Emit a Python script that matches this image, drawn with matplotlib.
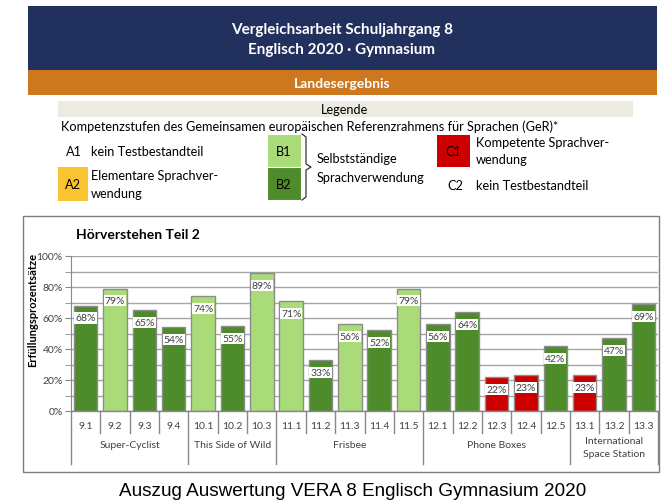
import matplotlib.pyplot as plt
from matplotlib.patches import Rectangle

# data
cats = ['9.1', '9.2', '9.3', '9.4', '10.1', '10.2', '10.3',
        '11.1', '11.2', '11.3', '11.4', '11.5',
        '12.1', '12.2', '12.3', '12.4', '12.5',
        '13.1', '13.2', '13.3']
values = [68, 79, 65, 54, 74, 55, 89, 71, 33, 56, 52, 79,
          56, 64, 22, 23, 42, 23, 47, 69]
levels = ['B2', 'B1', 'B2', 'B2', 'B1', 'B2', 'B1', 'B1', 'B2', 'B1', 'B2', 'B1',
          'B2', 'B2', 'A2', 'A2', 'B2', 'A2', 'B2', 'B2']
groups = ['Super-Cyclist', 'This Side of Wild', 'Frisbee', 'Phone Boxes',
          'International\nSpace Station']
group_sizes = [4, 3, 5, 5, 3]

colors = {'A2': '#CC0000', 'B1': '#A9DC78', 'B2': '#4E8B2B'}
navy = '#22305E'
orange = '#CD771F'
beige = '#EDEBE1'
yellow = '#F9C332'
txt = '#404040'
fs = 9.2  # legend text size

plt.rcParams['font.family'] = ['Lato', 'DejaVu Sans']

W, H = 665, 502
fig = plt.figure(figsize=(W / 100, H / 100), dpi=100)

# background axes in pixel coords
bg = fig.add_axes([0, 0, 1, 1])
bg.set_xlim(0, W)
bg.set_ylim(H, 0)
bg.axis('off')

# header
bg.add_patch(Rectangle((28, 7), 629, 64, fc=navy, ec='none'))
bg.add_patch(Rectangle((28, 71), 629, 25, fc=orange, ec='none'))
bg.text(342, 30, 'Vergleichsarbeit Schuljahrgang 8', color='white', fontsize=11,
        fontweight='bold', ha='center', va='center')
bg.text(342, 50, 'Englisch 2020 · Gymnasium', color='white', fontsize=11,
        fontweight='bold', ha='center', va='center')
bg.text(342, 84, 'Landesergebnis', color='white', fontsize=10,
        fontweight='bold', ha='center', va='center')

# legend block
bg.add_patch(Rectangle((58, 102), 575, 16, fc=beige, ec='none'))
bg.text(345, 110, 'Legende', fontsize=fs, ha='center', va='center', color='black')
bg.text(61, 127, 'Kompetenzstufen des Gemeinsamen europäischen Referenzrahmens für Sprachen (GeR)*',
        fontsize=fs, ha='left', va='center', color='black')

bg.text(66, 152, 'A1', fontsize=fs, ha='left', va='center')
bg.text(91, 152, 'kein Testbestandteil', fontsize=fs, ha='left', va='center')

bg.add_patch(Rectangle((58, 168), 30, 34, fc=yellow, ec='none'))
bg.text(73, 185, 'A2', fontsize=fs, ha='center', va='center')
bg.text(91, 176, 'Elementare Sprachver-', fontsize=fs, ha='left', va='center')
bg.text(91, 194, 'wendung', fontsize=fs, ha='left', va='center')

bg.add_patch(Rectangle((267, 135), 34, 33, fc=colors['B1'], ec='white', lw=0.8))
bg.add_patch(Rectangle((267, 168), 34, 33, fc=colors['B2'], ec='white', lw=0.8))
bg.text(284, 152, 'B1', fontsize=fs, ha='center', va='center')
bg.text(284, 185, 'B2', fontsize=fs, ha='center', va='center')
# brace
bg.plot([302, 306, 306, 311, 306, 306, 302],
        [135, 138, 165, 168, 171, 198, 201], color='#333333', lw=0.9)
bg.text(317, 159, 'Selbstständige', fontsize=fs, ha='left', va='center')
bg.text(317, 178, 'Sprachverwendung', fontsize=fs, ha='left', va='center')

bg.add_patch(Rectangle((437, 136), 33, 32, fc=colors['A2'], ec='none'))
bg.text(453, 152, 'C1', fontsize=fs, ha='center', va='center')
bg.text(476, 143, 'Kompetente Sprachver-', fontsize=fs, ha='left', va='center')
bg.text(476, 160, 'wendung', fontsize=fs, ha='left', va='center')
bg.text(447, 186, 'C2', fontsize=fs, ha='left', va='center')
bg.text(476, 186, 'kein Testbestandteil', fontsize=fs, ha='left', va='center')

# chart frame
bg.add_patch(Rectangle((23, 217), 636, 256, fc='white', ec='#7F7F7F', lw=1))
bg.text(76, 235, 'Hörverstehen Teil 2', fontsize=10, fontweight='bold',
        ha='left', va='center', color='black')
bg.text(33, 310, 'Erfüllungsprozentsätze', fontsize=8, fontweight='bold',
        rotation=90, ha='center', va='center', color='black')

# caption
bg.text(353, 492, 'Auszug Auswertung VERA 8 Englisch Gymnasium 2020',
        family='Liberation Sans', fontsize=13.6, ha='center', va='center', color='black')

# bar chart
x0, x1, y0, y1 = 71, 658, 412, 257
ax = fig.add_axes([x0 / W, (H - y0) / H, (x1 - x0) / W, (y0 - y1) / H])
ax.set_xlim(-0.5, len(cats) - 0.5)
ax.set_ylim(0, 100)
ax.set_yticks(range(0, 101, 20))
ax.set_yticks(range(10, 100, 20), minor=True)
ax.set_yticklabels([f'{v}%' for v in range(0, 101, 20)], fontsize=7.5, color=txt)
ax.tick_params(axis='y', which='both', length=4, color='#888888', pad=2)
ax.set_xticks([])
ax.set_axisbelow(True)
ax.grid(axis='y', which='both', color='#A6A6A6', lw=1, zorder=0)
for s in ['top', 'right', 'bottom']:
    ax.spines[s].set_visible(False)
ax.spines['left'].set_color('#888888')

xs = list(range(len(cats)))
ax.bar(xs, values, width=0.8, color=[colors[l] for l in levels],
       edgecolor='#8C8C8C', linewidth=1, zorder=3)
for x, v in zip(xs, values):
    ax.text(x, v - 8, f'{v}%', fontsize=7.5, color=txt, ha='center', va='center', zorder=4,
            bbox=dict(boxstyle='square,pad=0.1', fc='white', ec='none'))


def py(ypix):
    return (y0 - ypix) / (y0 - y1) * 100


ax.plot([-0.5, len(cats) - 0.5], [0, 0], color='#888888', lw=1, clip_on=False, zorder=5)
for i, c in enumerate(cats):
    ax.text(i, py(427), c, fontsize=7.5, color=txt, ha='center', va='center')
bounds = [-0.5]
for g in group_sizes:
    bounds.append(bounds[-1] + g)
for b in [i - 0.5 for i in range(len(cats) + 1)]:
    bottom = 465 if b in bounds else 434
    ax.plot([b, b], [0, py(bottom)], color='#888888', lw=1, clip_on=False)
for g, a, b in zip(groups, bounds[:-1], bounds[1:]):
    if '\n' in g:
        ax.text((a + b) / 2, py(448), g, fontsize=7.5, color=txt, ha='center',
                va='center', linespacing=1.5)
    else:
        ax.text((a + b) / 2, py(446), g, fontsize=7.5, color=txt, ha='center', va='center')

fig.savefig('out.png', dpi=100)
